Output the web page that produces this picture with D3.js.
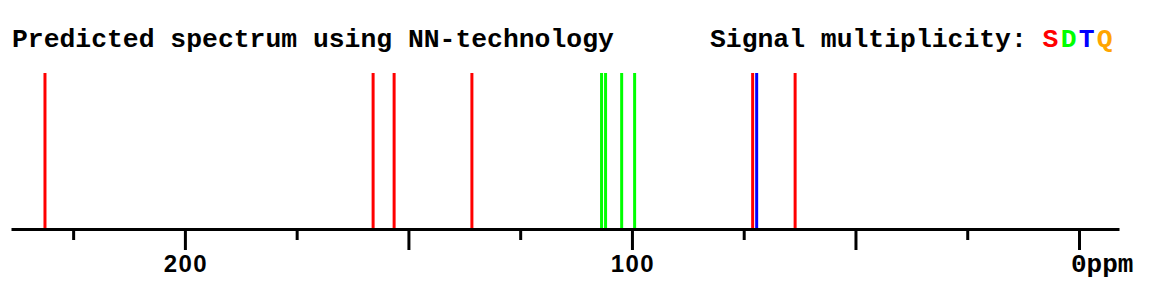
<!DOCTYPE html>
<html>
<head>
<meta charset="utf-8">
<script src="https://cdn.jsdelivr.net/npm/d3@7"></script>
<style>
  body { margin: 0; background: #fff; }
</style>
</head>
<body>
<div id="chart-area"></div>
<script>
const WIDTH = 1173
const HEIGHT = 290

// peaks (ppm) and their multiplicity
const shifts = [231.3, 157.9, 153.2, 135.8, 106.8, 105.9, 102.3, 99.4, 73.0, 72.1, 63.5]
const mults = ["S", "S", "S", "S", "D", "D", "D", "D", "S", "T", "S"]
const heights = [1, 1, 1, 1, 1, 1, 1, 1, 1, 1, 1]

const majorTicks = [200, 150, 100, 50, 0]
const minorTicks = [225, 175, 125, 75, 25]
const labelTicks = [200, 100]
const legend = ["S", "D", "T", "Q"]
const legendColors = ["#ff0000", "#00ff00", "#0000ff", "#ffa500"]

const MONO = "Liberation Mono, Courier New, monospace"

const color = d3.scaleOrdinal().domain(legend).range(legendColors)

const svg = d3.select("#chart-area").append("svg")
  .attr("width", WIDTH)
  .attr("height", HEIGHT)

const AXIS_Y = 229

const x = d3.scaleLinear()
  .domain([238.9, -8.95])
  .range([11, 1119])

const y = d3.scaleLinear()
  .domain([0, 1])
  .range([AXIS_Y, 73])

// peaks first so the axis line sits on top
svg.selectAll("line.peak")
  .data(shifts)
  .enter().append("line")
  .attr("class", "peak")
  .attr("x1", d => x(d))
  .attr("x2", d => x(d))
  .attr("y1", (d, i) => y(heights[i]))
  .attr("y2", y(0))
  .attr("stroke", (d, i) => color(mults[i]))
  .attr("stroke-width", 3)

const minorAxis = d3.axisBottom(x)
  .tickValues(minorTicks)
  .tickSize(11)
  .tickSizeOuter(0)
  .tickFormat("")
const majorAxis = d3.axisBottom(x)
  .tickValues(majorTicks)
  .tickSize(21)
  .tickSizeOuter(0)
  .tickFormat("")

svg.append("g")
  .attr("transform", `translate(0, ${AXIS_Y})`)
  .call(minorAxis)
  .call(g => g.select(".domain").remove())
  .call(g => g.selectAll("line").attr("stroke", "#000").attr("stroke-width", 3))

svg.append("g")
  .attr("transform", `translate(0, ${AXIS_Y})`)
  .call(majorAxis)
  .call(g => g.select(".domain").attr("stroke", "#000").attr("stroke-width", 3))
  .call(g => g.selectAll("line").attr("stroke", "#000").attr("stroke-width", 3))

svg.selectAll("text.tick-label")
  .data(labelTicks)
  .enter().append("text")
  .attr("class", "tick-label")
  .attr("x", d => x(d) + 1)
  .attr("y", 272)
  .attr("text-anchor", "middle")
  .attr("font-family", "Liberation Sans, Arial, sans-serif")
  .attr("font-weight", 600)
  .attr("font-size", "24px")
  .attr("letter-spacing", "1.5px")
  .text(d => d)

svg.append("text")
  .attr("x", x(0) - 8)
  .attr("y", 272)
  .attr("font-family", MONO)
  .attr("font-weight", "bold")
  .attr("font-size", "26px")
  .text("0ppm")

svg.append("text")
  .attr("x", 12)
  .attr("y", 47)
  .attr("font-family", MONO)
  .attr("font-weight", "bold")
  .attr("font-size", "26.4px")
  .text("Predicted spectrum using NN-technology")

const leg = svg.append("text")
  .attr("x", 710)
  .attr("y", 47)
  .attr("font-family", MONO)
  .attr("font-weight", "bold")
  .attr("font-size", "26.4px")
leg.append("tspan").text("Signal multiplicity: ")
leg.selectAll("tspan.m")
  .data(legend)
  .enter().append("tspan")
  .attr("class", "m")
  .attr("fill", d => color(d))
  .attr("letter-spacing", "2.2px")
  .text(d => d)
</script>
</body>
</html>
